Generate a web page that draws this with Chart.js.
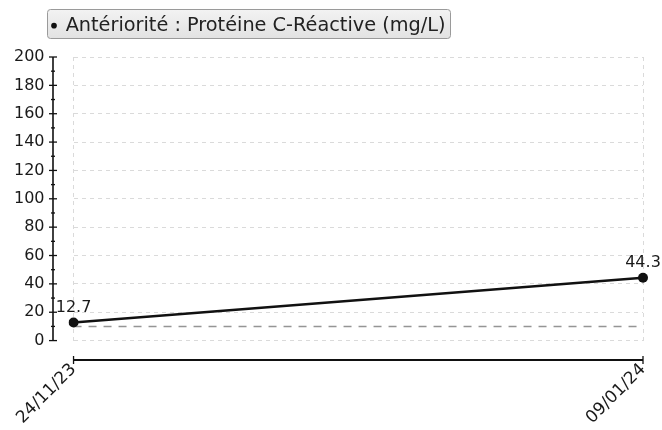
<!DOCTYPE html>
<html>
<head>
<meta charset="utf-8">
<script src="https://cdn.jsdelivr.net/npm/chart.js@4"></script>
<style>
  html, body { margin: 0; padding: 0; background: #fff; }
  #wrap { width: 662px; height: 430px; }
</style>
</head>
<body>
<div id="wrap"><canvas id="chart"></canvas></div>
<script>
const dates = ['24/11/23', '09/01/24']
const crpValues = [12.7, 44.3]
const refValues = [10, 10]
const yTicks = [0, 20, 40, 60, 80, 100, 120, 140, 160, 180, 200]
const seriesName = 'Antériorité : Protéine C-Réactive (mg/L)'

const FONT = 'DejaVu Sans'

// legend frame, axis lines drawn off the plot area, value labels
const extras = {
  id: 'extras',
  afterLayout(chart) {
    // legend box placed by hand: a bit right of the padding, at the very top
    if (chart.legend) {
      chart.legend.left = 36
      chart.legend.top = 0
    }
  },
  beforeDraw(chart) {
    const lg = chart.legend
    if (lg && lg.legendHitBoxes && lg.legendHitBoxes.length) {
      const hb = lg.legendHitBoxes[0]
      const ctx = chart.ctx
      const x = hb.left - 5, y = hb.top - 7, w = hb.width + 10, h = hb.height + 10
      ctx.save()
      const g = ctx.createLinearGradient(0, y, 0, y + h)
      g.addColorStop(0, '#f3f3f3')
      g.addColorStop(1, '#e2e2e2')
      ctx.fillStyle = g
      ctx.strokeStyle = '#9a9a9a'
      ctx.lineWidth = 1
      ctx.beginPath()
      ctx.roundRect(Math.round(x) + 0.5, Math.round(y) + 0.5, Math.round(w), Math.round(h), 3)
      ctx.fill()
      ctx.stroke()
      ctx.restore()
    }
  },
  afterDraw(chart) {
    const ctx = chart.ctx
    const xs = chart.scales.x
    const ys = chart.scales.y
    const area = chart.chartArea
    ctx.save()
    ctx.strokeStyle = '#111'
    ctx.lineWidth = 1.6

    // y axis
    const ax = Math.round(area.left - 21)
    ctx.beginPath()
    ctx.moveTo(ax, ys.getPixelForValue(ys.max))
    ctx.lineTo(ax, ys.getPixelForValue(ys.min))
    ctx.stroke()
    ctx.lineWidth = 1.3
    for (let v = ys.min; v <= ys.max; v += 10) {
      const py = ys.getPixelForValue(v)
      const len = v % 20 === 0 ? 4 : 2
      ctx.beginPath()
      ctx.moveTo(ax - len, py)
      ctx.lineTo(ax + len, py)
      ctx.stroke()
    }

    // x axis
    const bx = Math.round(area.bottom + 19)
    const x0 = xs.getPixelForValue(0)
    const x1 = xs.getPixelForValue(dates.length - 1)
    ctx.lineWidth = 2
    ctx.beginPath()
    ctx.moveTo(x0, bx)
    ctx.lineTo(x1, bx)
    ctx.stroke()
    ctx.lineWidth = 1.3
    ;[x0, x1].forEach(px => {
      ctx.beginPath()
      ctx.moveTo(px, bx - 4)
      ctx.lineTo(px, bx + 4)
      ctx.stroke()
    })

    // value labels
    const meta = chart.getDatasetMeta(0)
    ctx.fillStyle = '#1a1a1a'
    ctx.font = '16px ' + FONT
    ctx.textAlign = 'center'
    ctx.textBaseline = 'bottom'
    meta.data.forEach((pt, i) => {
      ctx.fillText(String(crpValues[i]), pt.x, pt.y - 7)
    })
    ctx.restore()
  }
}

new Chart(document.getElementById('chart'), {
  type: 'line',
  data: {
    labels: dates,
    datasets: [{
      label: seriesName,
      data: crpValues,
      borderColor: '#111',
      backgroundColor: '#111',
      borderWidth: 2.5,
      pointRadius: 5,
      pointBackgroundColor: '#111',
      pointBorderWidth: 0,
      tension: 0,
      order: 0
    }, {
      label: 'ref',
      data: refValues,
      borderColor: '#959595',
      borderWidth: 1.5,
      borderDash: [8, 7],
      pointRadius: 0,
      fill: false,
      order: 1
    }]
  },
  options: {
    responsive: true,
    maintainAspectRatio: false,
    animation: false,
    layout: { padding: { left: 14, right: 19, top: 0, bottom: 2 } },
    plugins: {
      tooltip: { enabled: false },
      legend: {
        position: 'top',
        align: 'start',
        labels: {
          filter: item => item.datasetIndex === 0,
          usePointStyle: true,
          pointStyle: 'circle',
          boxWidth: 4,
          boxHeight: 4,
          padding: 16,
          color: '#222',
          font: { family: FONT, size: 19.3 }
        }
      }
    },
    scales: {
      x: {
        type: 'category',
        offset: false,
        afterFit(scale) {
          scale.paddingLeft = 0
          scale.paddingRight = 0
          scale.height -= 19
        },
        grid: {
          color: '#dadada',
          drawTicks: false
        },
        border: { display: false, dash: [4, 4] },
        ticks: {
          minRotation: 45,
          maxRotation: 45,
          padding: 19,
          color: '#1a1a1a',
          font: { family: FONT, size: 17 }
        }
      },
      y: {
        min: 0,
        max: 200,
        afterFit(scale) {
          scale.paddingTop = 57
          scale.width -= 29
        },
        afterBuildTicks(scale) { scale.ticks = yTicks.map(v => ({ value: v })) },
        grid: {
          color: '#dadada',
          drawTicks: false
        },
        border: { display: false, dash: [4, 4] },
        ticks: {
          padding: 29,
          color: '#1a1a1a',
          font: { family: FONT, size: 16 }
        }
      }
    }
  },
  plugins: [extras]
})
</script>
</body>
</html>
